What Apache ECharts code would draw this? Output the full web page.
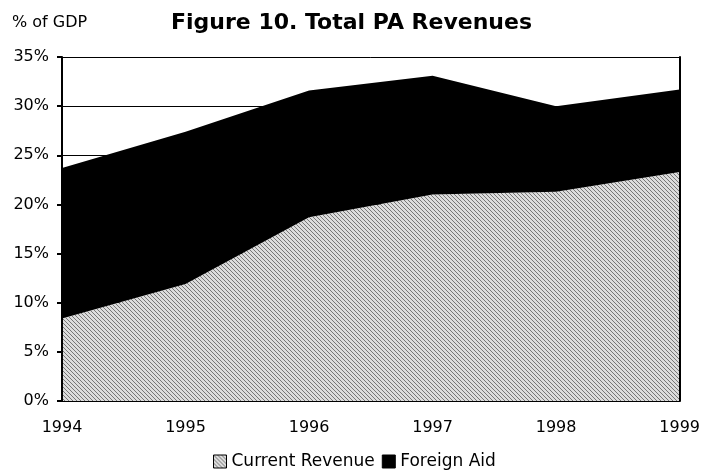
<!DOCTYPE html>
<html>
<head>
<meta charset="utf-8">
<script src="https://cdn.jsdelivr.net/npm/echarts@6/dist/echarts.min.js"></script>
<style>html,body{margin:0;padding:0;background:#fff;}#c{width:703px;height:475px;}</style>
</head>
<body>
<div id="c"></div>
<script>
const years = ['1994', '1995', '1996', '1997', '1998', '1999'];
const currentRevenue = [8.4, 11.9, 18.7, 21.0, 21.3, 23.3];
const foreignAid = [15.3, 15.5, 12.9, 12.1, 8.7, 8.4];
const yTicks = [0, 5, 10, 15, 20, 25, 30, 35];
const seriesNames = ['Current Revenue', 'Foreign Aid'];

// hatch pattern
const pc = document.createElement('canvas');
pc.width = 4; pc.height = 4;
const pctx = pc.getContext('2d');
pctx.fillStyle = '#dcdcdc';
pctx.fillRect(0, 0, 4, 4);
pctx.fillStyle = '#767676';
for (let i = 0; i < 4; i++) pctx.fillRect(i, i, 1, 1);
const hatch = { image: pc, repeat: 'repeat' };

const FONT = 'DejaVu Sans';
const chart = echarts.init(document.getElementById('c'), null, { renderer: 'canvas' });
chart.setOption({
  animation: false,
  backgroundColor: '#fff',
  textStyle: { fontFamily: FONT, color: '#000' },
  title: {
    text: 'Figure 10. Total PA Revenues',
    left: 'center',
    top: 12,
    padding: 0,
    textStyle: { fontFamily: FONT, fontSize: 22, fontWeight: 'bold', color: '#000' }
  },
  graphic: [{
    type: 'text', left: 12, top: 15,
    style: { text: '% of GDP', font: '16px "DejaVu Sans"', fill: '#000' }
  }],
  legend: {
    data: seriesNames,
    left: 213, top: 453,
    padding: 0,
    itemWidth: 13, itemHeight: 13, itemGap: 7,
    icon: 'rect',
    itemStyle: { borderColor: '#000', borderWidth: 1 },
    textStyle: { fontFamily: FONT, fontSize: 17, color: '#000' }
  },
  grid: { left: 62, right: 20, top: 57, bottom: 74 },
  xAxis: {
    type: 'category', data: years, boundaryGap: false, z: 10,
    axisLine: { lineStyle: { color: '#000', width: 1, type: [5, 2] } },
    axisTick: { show: false },
    axisLabel: { margin: 19, fontFamily: FONT, fontSize: 16, color: '#000' },
    splitLine: { show: false }
  },
  yAxis: [{
    type: 'value', min: 0, max: 35, interval: 5, position: 'left', z: 10,
    axisLine: { show: true, lineStyle: { color: '#000', width: 2 } },
    axisTick: { show: true, length: 5, lineStyle: { color: '#000', width: 2 } },
    axisLabel: { margin: 13, fontFamily: FONT, fontSize: 16, color: '#000',
      formatter: v => yTicks.includes(v) ? v + '%' : '' },
    splitLine: { show: false }
  }, {
    type: 'value', min: 0, max: 35, interval: 5, position: 'right', z: 0,
    axisLine: { show: false }, axisTick: { show: false }, axisLabel: { show: false },
    splitLine: { show: true, lineStyle: { color: '#000', width: 1 } }
  }, {
    type: 'value', min: 0, max: 35, interval: 5, position: 'right', z: 10,
    axisLine: { show: true, lineStyle: { color: '#000', width: 2 } },
    axisTick: { show: false }, axisLabel: { show: false }, splitLine: { show: false }
  }],
  series: [{
    name: seriesNames[0], type: 'line', stack: 'total', data: currentRevenue,
    symbol: 'none', lineStyle: { width: 0 },
    itemStyle: { color: hatch },
    areaStyle: { color: hatch, opacity: 1 }
  }, {
    name: seriesNames[1], type: 'line', stack: 'total', data: foreignAid,
    symbol: 'none', lineStyle: { width: 0 },
    itemStyle: { color: '#000' },
    areaStyle: { color: '#000', opacity: 1 }
  }]
});
</script>
</body>
</html>
